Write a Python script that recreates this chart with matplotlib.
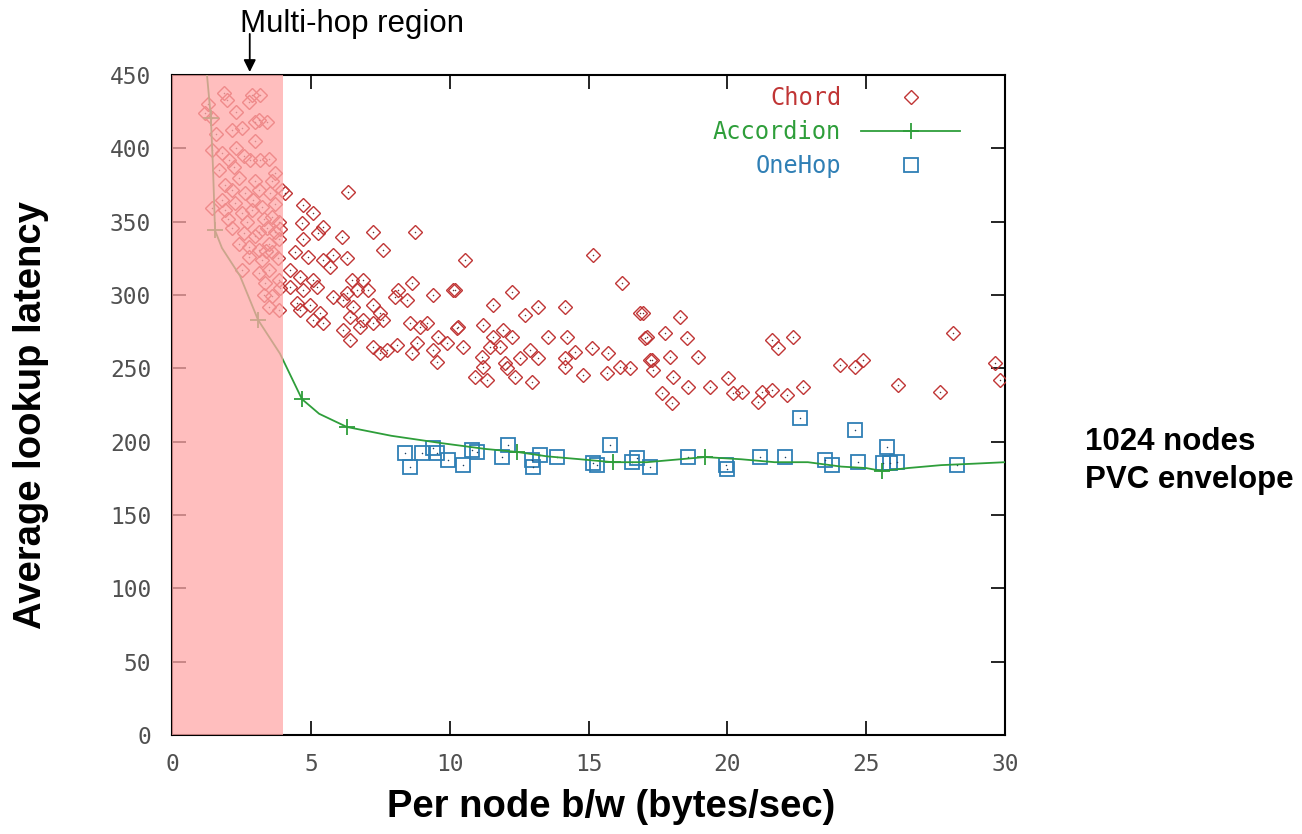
import matplotlib
matplotlib.use("Agg")
import matplotlib.pyplot as plt
from matplotlib.lines import Line2D
import numpy as np

# ---- data -------------------------------------------------------------
chord_x = [
    1.87, 1.98, 2.88, 3.17, 2.77, 1.19, 1.44, 2.16, 2.52, 3.13, 3.42, 1.44, 1.80, 2.05,
    2.23, 2.81, 3.17, 3.49, 1.69, 2.41, 2.99, 3.71, 3.96, 2.16, 2.63, 3.13, 3.53, 1.80,
    2.27, 1.44, 1.91, 2.52, 2.88, 3.24, 3.60, 3.85, 2.16, 2.59, 3.13, 3.42, 3.71, 2.41,
    2.77, 3.13, 3.49, 3.85, 2.77, 3.24, 3.60, 2.52, 3.13, 3.49, 3.35, 3.85, 3.60, 3.85,
    3.49, 1.30, 2.30, 2.60, 3.00, 1.90, 2.90, 3.30, 3.70, 3.90, 2.00, 2.70, 3.00, 3.40,
    3.80, 3.30, 3.90, 2.30, 3.00, 3.60, 1.60,
    4.07, 6.34, 4.72, 5.08, 4.68, 5.44, 5.26, 4.72, 6.12, 7.24, 8.75, 7.60, 4.43, 4.90,
    5.44, 5.80, 5.69, 6.30, 4.25, 4.61, 5.08, 4.25, 4.72, 5.22, 6.48, 6.88, 7.06, 6.30,
    5.80, 6.66, 8.64, 8.14, 9.40, 10.12, 8.03, 8.46, 4.50, 4.97, 5.33, 4.61, 5.08, 5.44,
    6.16, 6.52, 7.24, 7.49, 6.88, 6.41, 6.77, 7.24, 7.60, 6.16, 6.41, 8.57, 8.93, 9.18,
    9.58, 9.90, 10.26, 7.24, 7.74, 8.10, 8.64, 8.82, 9.40, 9.54, 7.49,
    10.55, 15.16, 16.20, 10.19, 12.24, 14.15, 16.85, 13.18, 11.56, 12.71, 10.30, 11.20,
    11.92, 11.56, 13.54, 14.22, 12.24, 17.10, 10.48, 11.45, 11.81, 12.89, 14.51, 15.12,
    15.70, 13.18, 11.16, 11.99, 14.15, 12.53, 17.21, 11.20, 12.06, 14.15, 14.80, 15.66,
    16.13, 16.49, 10.91, 11.34, 12.35, 12.96,
    16.96, 18.29, 17.03, 17.75, 18.55, 17.28, 17.93, 18.94, 17.32, 18.04, 17.65, 18.01,
    18.58, 19.37, 20.02, 20.20, 20.53, 21.10, 21.25, 21.61, 22.15, 22.72, 21.61, 21.82,
    22.36, 24.05, 24.59, 24.88, 26.14, 27.66, 28.12, 29.64, 29.82,
]
chord_y = [
    437.7, 433.0, 436.4, 436.4, 431.6, 424.0, 421.0, 412.5, 414.0, 419.0, 418.0, 399.0, 397.0, 392.0,
    387.0, 392.0, 392.0, 393.0, 385.0, 380.0, 378.0, 383.0, 371.6, 371.6, 369.5, 371.6, 369.5, 365.0,
    363.0, 359.0, 358.0, 356.0, 358.0, 360.0, 353.0, 350.0, 346.0, 342.0, 343.0, 346.0, 343.0, 335.0,
    333.0, 331.0, 335.0, 338.0, 326.0, 324.0, 329.0, 317.0, 315.0, 317.0, 308.0, 310.0, 299.0, 290.0,
    292.0, 430.0, 400.0, 395.0, 405.0, 375.0, 365.0, 352.0, 362.0, 345.0, 352.0, 350.0, 340.0, 330.0,
    325.0, 300.0, 305.0, 425.0, 418.0, 378.0, 410.0,
    369.5, 370.2, 361.4, 355.9, 349.1, 346.4, 342.6, 338.0, 339.5, 343.0, 343.0, 330.7, 329.3, 325.9,
    323.9, 327.3, 319.1, 325.2, 317.0, 312.3, 310.2, 305.4, 303.4, 305.4, 310.2, 310.2, 303.4, 301.4,
    298.6, 303.4, 308.2, 303.4, 300.0, 303.4, 298.6, 296.6, 294.5, 293.2, 287.7, 289.8, 283.0, 280.9,
    296.6, 291.8, 293.2, 287.7, 283.0, 285.0, 278.2, 280.9, 283.0, 276.1, 269.3, 280.9, 278.2, 280.9,
    271.4, 267.3, 277.5, 264.5, 262.5, 265.9, 260.4, 267.3, 262.5, 254.3, 260.4,
    323.9, 327.3, 308.2, 303.4, 302.0, 291.8, 287.7, 291.8, 293.2, 286.4, 278.2, 279.5,
    276.1, 271.4, 271.4, 271.4, 271.4, 271.4, 264.5, 264.5, 264.5, 262.5, 261.1, 263.9,
    260.4, 257.0, 257.7, 253.6, 257.0, 257.0, 255.7, 250.9, 250.2, 250.9, 245.4, 246.8,
    250.9, 250.2, 244.1, 242.0, 244.1, 240.7,
    287.7, 285.0, 270.7, 274.1, 270.7, 255.7, 257.7, 257.7, 248.9, 244.1, 233.2, 226.4,
    237.3, 237.3, 243.4, 233.2, 233.9, 227.1, 233.9, 235.2, 231.8, 237.3, 269.3, 263.9,
    271.4, 252.3, 250.9, 255.7, 238.6, 233.9, 274.1, 253.6, 242.0,
]

accordion_x = [1.26, 1.40, 1.48, 1.55, 1.80, 2.45, 3.10, 3.89, 4.68, 5.30, 6.30, 7.90, 9.70,
               11.30, 12.42, 13.50, 14.70, 15.88, 17.10, 18.30, 19.19, 20.50, 21.70, 22.90,
               24.10, 25.00, 25.57, 26.50, 27.70, 28.90, 30.00]
accordion_y = [450, 421, 385, 344, 332, 313, 283, 260, 229, 219, 210, 204, 199,
               195, 193, 190, 188, 186, 186, 188, 189.5, 188, 186, 186,
               183, 182, 180, 182, 184, 185, 186]
accordion_marks = [1, 3, 6, 8, 10, 14, 17, 20, 26]

onehop_x = [8.39, 8.57, 9.00, 9.40, 9.54, 9.94, 10.48, 10.80, 10.98, 11.88, 12.10, 12.96,
            13.00, 13.25, 13.86, 15.16, 15.30, 15.77, 16.56, 16.74, 17.21, 18.58, 19.95,
            20.00, 21.17, 22.07, 22.61, 23.51, 23.77, 24.59, 24.70, 25.75, 25.60, 25.86,
            26.11, 28.27]
onehop_y = [192.3, 182.7, 192.3, 195.7, 192.3, 187.5, 184.1, 194.3, 193.0, 189.5, 197.7, 187.5,
            182.7, 190.9, 189.5, 185.5, 184.1, 197.7, 186.1, 188.9, 182.7, 189.5, 184.1,
            181.5, 189.5, 189.5, 216.1, 187.5, 184.1, 207.9, 186.1, 196.4, 185.5, 185.5,
            186.1, 184.1]

multihop_span = (0, 4)
x_ticks = [0, 5, 10, 15, 20, 25, 30]
y_ticks = [0, 50, 100, 150, 200, 250, 300, 350, 400, 450]

# ---- style ------------------------------------------------------------
C_RED = "#c03535"
C_GREEN = "#2e9e3a"
C_BLUE = "#2f7fb5"
TICK_FONT = "DejaVu Sans Mono"

fig = plt.figure(figsize=(13.02, 8.34), dpi=100)
ax = fig.add_axes([0.1321, 0.1187, 0.6398, 0.7914])

ax.plot(chord_x, chord_y, linestyle="none", marker="D", markersize=7,
        markerfacecolor="none", markeredgecolor=C_RED, markeredgewidth=1.0, zorder=3)
ax.scatter(chord_x, chord_y, s=1.2, color="#603030", zorder=3, linewidths=0)

ax.plot(accordion_x, accordion_y, color=C_GREEN, linewidth=1.3, marker="+",
        markersize=11, markeredgewidth=1.3, markevery=accordion_marks, zorder=4)

ax.plot(onehop_x, onehop_y, linestyle="none", marker="s", markersize=9.5,
        markerfacecolor="none", markeredgecolor=C_BLUE, markeredgewidth=1.3, zorder=3)
ax.scatter(onehop_x, onehop_y, s=1.2, color="#204060", zorder=3, linewidths=0)

# multi-hop shading sits over the data so points beneath it look faded
ax.axvspan(*multihop_span, color="#ffa8a8", alpha=0.75, linewidth=0, zorder=5)

ax.set_xlim(0, 30)
ax.set_ylim(0, 450)
ax.set_xticks(x_ticks)
ax.set_yticks(y_ticks)
ax.tick_params(direction="in", length=10, width=1.2, top=True, right=True,
               labelsize=16.5, labelcolor="#505050")
ax.tick_params(axis="y", pad=15)
ax.tick_params(axis="x", pad=13)
for lab in ax.get_xticklabels() + ax.get_yticklabels():
    lab.set_family(TICK_FONT)
for s in ax.spines.values():
    s.set_linewidth(1.5)
    s.set_color("black")

ax.set_xlabel("Per node b/w (bytes/sec)", fontsize=27.5, fontweight="bold",
              family="Liberation Sans", labelpad=9)
ax.xaxis.label.set_x(0.527)
ax.set_ylabel("Average lookup latency", fontsize=27.5, fontweight="bold",
              family="Liberation Sans", labelpad=44)
ax.yaxis.label.set_y(0.485)

# legend: text on the left, symbol on the right
handles = [
    Line2D([], [], linestyle="none", marker="D", markersize=7, markerfacecolor="none",
           markeredgecolor=C_RED, markeredgewidth=1.0),
    Line2D([], [], color=C_GREEN, linewidth=1.3, marker="+", markersize=11,
           markeredgewidth=1.3),
    Line2D([], [], linestyle="none", marker="s", markersize=9.5, markerfacecolor="none",
           markeredgecolor=C_BLUE, markeredgewidth=1.3),
]
leg = ax.legend(handles, ["Chord", "Accordion", "OneHop"], loc="upper right",
                bbox_to_anchor=(0.972, 1.015), markerfirst=False, frameon=False,
                handlelength=4.2, handletextpad=0.85, labelspacing=0.42,
                prop={"family": TICK_FONT, "size": 17})
for txt, col in zip(leg.get_texts(), [C_RED, C_GREEN, C_BLUE]):
    txt.set_color(col)
    txt.set_ha("right")

# annotation above the plot
ax.annotate("", xy=(2.8, 452), xytext=(2.8, 478), xycoords="data",
            arrowprops=dict(arrowstyle="-|>", color="black", lw=1.3,
                            mutation_scale=18, shrinkA=0, shrinkB=0),
            annotation_clip=False)
fig.text(352 / 1302, 1 - 24 / 834, "Multi-hop region", ha="center", va="center",
         fontsize=22.5, family="Liberation Sans")

fig.text(1085 / 1302, 1 - 461 / 834, "1024 nodes\nPVC envelope", ha="left",
         va="center", fontsize=22.5, fontweight="bold", family="Liberation Sans",
         linespacing=1.35)

fig.savefig("out.png", dpi=100, facecolor="white")
